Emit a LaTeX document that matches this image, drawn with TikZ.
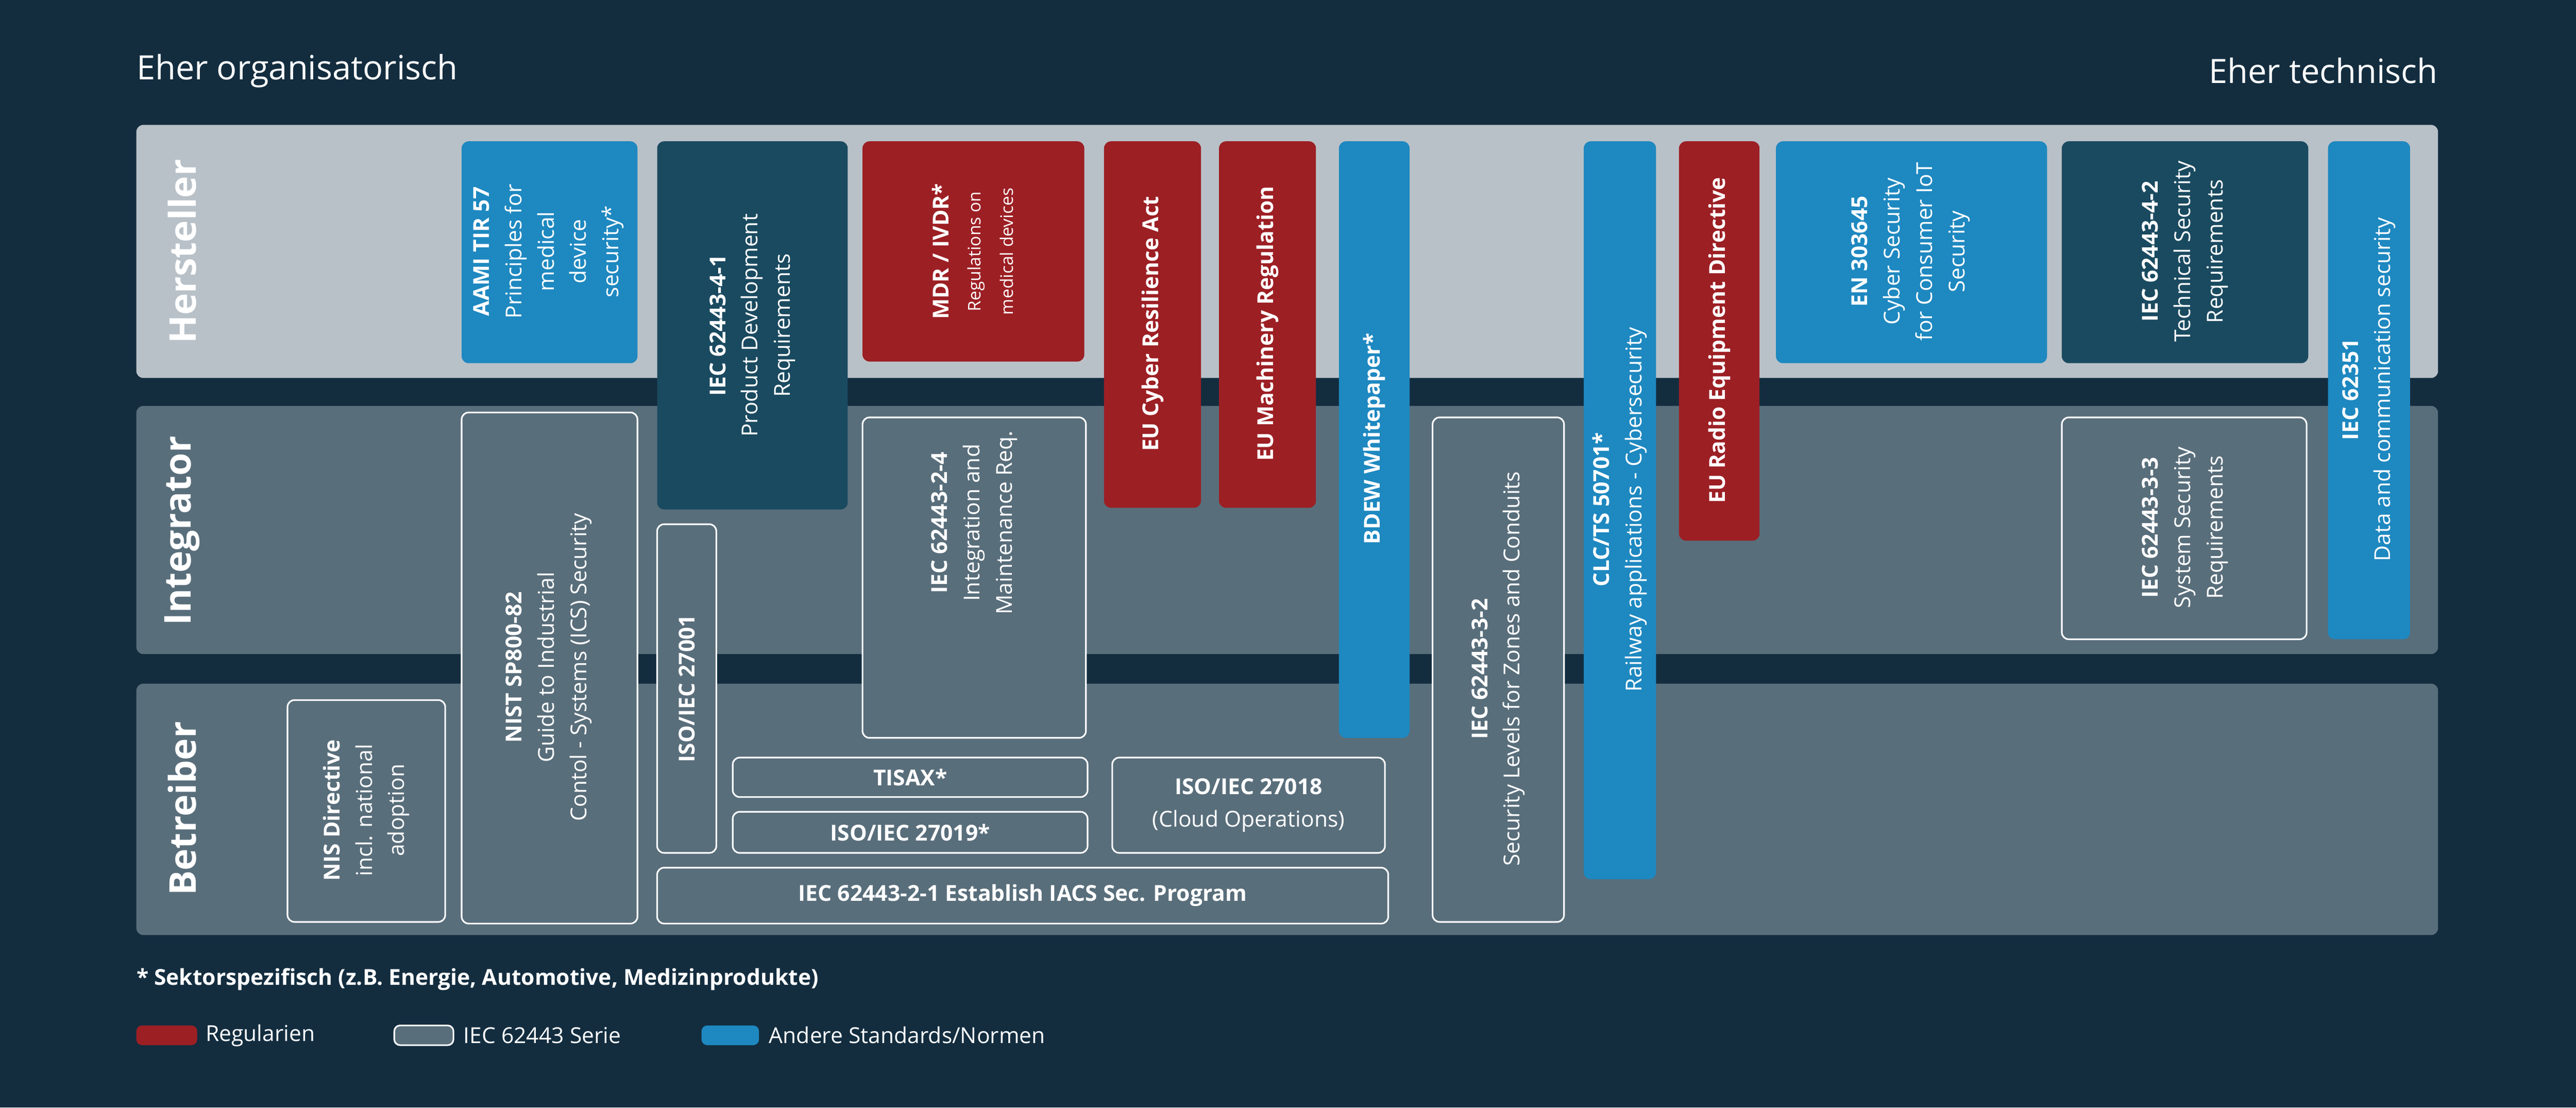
\documentclass[tikz,border=0pt]{standalone}
\usepackage{fontspec}
\setmainfont{Open Sans}
\begin{document}
\definecolor{bg}{HTML}{132D3F}
\definecolor{bandA}{HTML}{B9C1C8}
\definecolor{bandB}{HTML}{596E7B}
\definecolor{rred}{HTML}{9C1F24}
\definecolor{bblue}{HTML}{1E88C0}
\definecolor{teal}{HTML}{1A4A60}
\begin{tikzpicture}[x=0.05cm,y=-0.05cm,
  box/.style={rounded corners=6pt,line width=1.4pt},
  rbox/.style={box,fill=rred,draw=none},
  bbox/.style={box,fill=bblue,draw=none},
  tbox/.style={box,fill=teal,draw=none},
  obox/.style={box,fill=bandB,draw=white},
  txt/.style={text=white,font=\fontsize{19}{28}\selectfont,align=center,inner sep=0pt},
  rt/.style={txt,rotate=90}]
\fill[bg] (0,0) rectangle (1568,674);
\useasboundingbox (0,0) rectangle (1568,674);
\node[txt,anchor=west,font=\fontsize{29}{34}\selectfont] (l) at (83,43) {Eher organisatorisch};
\node[txt,anchor=east,font=\fontsize{29}{34}\selectfont] (r) at (1484,43) {Eher technisch};
\fill[bandA,rounded corners=6pt] (83,76) rectangle (1484,230);
\fill[bandB,rounded corners=6pt] (83,247) rectangle (1484,398);
\fill[bandB,rounded corners=6pt] (83,416) rectangle (1484,569);
\node[rt,font=\bfseries\fontsize{32}{36}\selectfont] (h) at (111,153) {Hersteller};
\node[rt,font=\bfseries\fontsize{32}{36}\selectfont] (i) at (111,323) {Integrator};
\node[rt,font=\bfseries\fontsize{32}{36}\selectfont] (b) at (111,492) {Betreiber};
% outline boxes
\draw[obox] (281,251) rectangle (388,562);
\node[rt] (nist) at (334,406) {\textbf{NIST SP800-82}\\Guide to Industrial\\Contol - Systems (ICS) Security};
\draw[obox] (400,319) rectangle (436,519);
\node[rt] (i27001) at (418,419) {\textbf{ISO/IEC 27001}};
\draw[obox] (525,254) rectangle (661,449);
\node[rt,anchor=east] (i224) at (593,262) {\textbf{IEC 62443-2-4}\\Integration and\\Maintenance Req.};
\draw[obox] (872,254) rectangle (952,561);
\node[rt] (i32) at (912,407) {\textbf{IEC 62443-3-2}\\Security Levels for Zones and Conduits};
\draw[obox] (1255,254) rectangle (1404,389);
\node[rt] (i33) at (1330,321) {\textbf{IEC 62443-3-3}\\System Security\\Requirements};
\draw[obox] (175,426) rectangle (271,561);
\node[rt] (nis) at (223,493) {\textbf{NIS Directive}\\incl. national\\adoption};
\draw[obox] (446,461) rectangle (662,485);
\node[txt] (tisax) at (554,473) {\textbf{TISAX*}};
\draw[obox] (446,494) rectangle (662,519);
\node[txt] (i27019) at (554,506.5) {\textbf{ISO/IEC 27019*}};
\draw[obox] (677,461) rectangle (843,519);
\node[txt] (i27018) at (760,490) {\textbf{ISO/IEC 27018}\\(Cloud Operations)};
\draw[obox] (400,528) rectangle (845,562);
\node[txt] (i21) at (622.5,545) {\textbf{IEC 62443-2-1 Establish IACS Sec. Program}};
% filled boxes
\fill[bbox] (281,86) rectangle (388,221);
\node[rt] (aami) at (334,153) {\textbf{AAMI TIR 57}\\Principles for\\medical\\device\\security*};
\fill[tbox] (400,86) rectangle (516,310);
\node[rt] (i41) at (458,198) {\textbf{IEC 62443-4-1}\\Product Development\\Requirements};
\fill[rbox] (525,86) rectangle (660,220);
\node[rt] (mdr) at (592,153) {\textbf{MDR / IVDR*}\\{\fontsize{15}{18}\selectfont Regulations on}\\{\fontsize{15}{18}\selectfont medical devices}};
\fill[rbox] (672,86) rectangle (731,309);
\node[rt] (cra) at (701.5,197) {\textbf{EU Cyber Resilience Act}};
\fill[rbox] (742,86) rectangle (801,309);
\node[rt] (mach) at (771.5,197) {\textbf{EU Machinery Regulation}};
\fill[bbox] (815,86) rectangle (858,449);
\node[rt] (bdew) at (836.5,267) {\textbf{BDEW Whitepaper*}};
\fill[bbox] (964,86) rectangle (1008,535);
\node[rt] (clc) at (986,310) {\textbf{CLC/TS 50701*}\\Railway applications - Cybersecurity};
\fill[rbox] (1022,86) rectangle (1071,329);
\node[rt] (radio) at (1046.5,207) {\textbf{EU Radio Equipment Directive}};
\fill[bbox] (1081,86) rectangle (1246,221);
\node[rt] (en) at (1163,153) {\textbf{EN 303645}\\Cyber Security\\for Consumer IoT\\Security};
\fill[tbox] (1255,86) rectangle (1405,221);
\node[rt] (i42) at (1330,153) {\textbf{IEC 62443-4-2}\\Technical Security\\Requirements};
\fill[bbox] (1417,86) rectangle (1467,389);
\node[rt] (i62351) at (1442,237) {\textbf{IEC 62351}\\Data and communication security};
% legend
\node[txt,anchor=west] (star) at (83,596) {\textbf{* Sektorspezifisch (z.B. Energie, Automotive, Medizinprodukte)}};
\fill[rred,rounded corners=5pt] (83,624) rectangle (120,636);
\node[txt,anchor=west] (lg1) at (125,630) {Regularien};
\draw[white,fill=bandB,rounded corners=5pt,line width=1.4pt] (240,624) rectangle (276,636);
\node[txt,anchor=west] (lg2) at (282,630) {IEC 62443 Serie};
\fill[bblue,rounded corners=5pt] (427,624) rectangle (462,636);
\node[txt,anchor=west] (lg3) at (468,630) {Andere Standards/Normen};
\end{tikzpicture}
\end{document}
